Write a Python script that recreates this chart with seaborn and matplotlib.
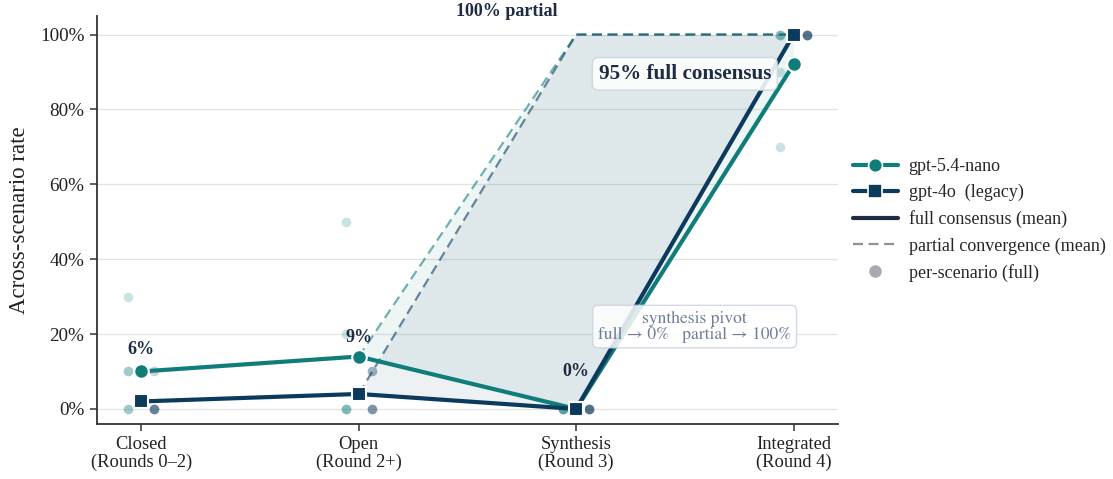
import numpy as np
import pandas as pd
import matplotlib
matplotlib.use("Agg")
import matplotlib.pyplot as plt
import seaborn as sns
from matplotlib.lines import Line2D

# ---------------- data ----------------
phases = ["Closed\n(Rounds 0–2)", "Open\n(Round 2+)", "Synthesis\n(Round 3)", "Integrated\n(Round 4)"]
model_names = ["gpt-5.4-nano", "gpt-4o  (legacy)"]

nano_full = [10, 14, 0, 92]
nano_partial = [10, 14, 100, 100]
gpt4o_full = [2, 4, 0, 100]
gpt4o_partial = [2, 4, 100, 100]

# per-scenario full-consensus rates (one list per phase)
nano_scenarios = [[30, 10, 10, 0, 0], [50, 20, 0, 0, 0], [0, 0, 0, 0, 0], [100, 100, 100, 90, 70]]
gpt4o_scenarios = [[10, 0, 0, 0, 0], [10, 10, 0, 0, 0], [0, 0, 0, 0, 0], [100, 100, 100, 100, 100]]

pooled_labels = ["6%", "9%", "0%"]
yticks = [0, 20, 40, 60, 80, 100]

# ---------------- style ----------------
TEAL = "#0f7d7a"
NAVY = "#0c3a5c"
DARK = "#1e2b42"
GRAYDASH = "#8c919b"
GRAYDOT = "#a8aab2"
PIVOT = "#6e7d99"

sns.set_theme(style="white")
plt.rcParams["font.family"] = ["Liberation Serif", "STIXGeneral", "DejaVu Serif"]
plt.rcParams["axes.unicode_minus"] = False

fig = plt.figure(figsize=(11.13, 4.79), dpi=100)
ax = fig.add_axes([0.087, 0.115, 0.666, 0.852])

x = np.arange(len(phases))
df = pd.DataFrame({
    "x": np.concatenate([x, x]),
    "full": nano_full + gpt4o_full,
    "partial": nano_partial + gpt4o_partial,
    "model": [model_names[0]] * 4 + [model_names[1]] * 4,
})

series = [
    (model_names[0], nano_full, nano_partial, nano_scenarios, TEAL, "o", -0.06, 0.072),
    (model_names[1], gpt4o_full, gpt4o_partial, gpt4o_scenarios, NAVY, "s", 0.06, 0.072),
]

for name, full, partial, scen, col, mk, off, fa in series:
    sub = df[df["model"] == name]
    # shaded gap between full and partial
    ax.fill_between(sub["x"], sub["full"], sub["partial"], color=col, alpha=fa, lw=0, zorder=1)
    # partial convergence (dashed)
    sns.lineplot(data=sub, x="x", y="partial", ax=ax, color=col, alpha=0.6, lw=1.6,
                 linestyle=(0, (4.5, 2.5)), zorder=2, estimator=None, sort=False)
    # per-scenario dots
    sx = np.concatenate([[xi + off] * len(v) for xi, v in zip(x, scen)])
    sy = np.concatenate([v for v in scen])
    sns.scatterplot(x=sx, y=sy, ax=ax, color=col, alpha=0.22, s=48, linewidth=0, zorder=3)

for name, full, partial, scen, col, mk, off, fa in series:
    sub = df[df["model"] == name]
    sns.lineplot(data=sub, x="x", y="full", ax=ax, color=col, lw=3, marker=mk,
                 markersize=10.5 if mk == "o" else 10, markeredgecolor="white", markeredgewidth=1.5,
                 zorder=5, estimator=None, sort=False)

# ---------------- annotations ----------------
label_y = [15.8, 19, 9.9]
for xi, (lab, ly) in enumerate(zip(pooled_labels, label_y)):
    ax.text(xi, ly, lab, ha="center", va="center", fontsize=13, fontweight="bold", color=DARK, zorder=7)

ax.text(1.68, 106.2, "100% partial", ha="center", va="center", fontsize=13, fontweight="bold",
        color=DARK, clip_on=False, zorder=7)

ax.text(2.50, 89.5, "95% full consensus", ha="center", va="center", fontsize=15.2, fontweight="bold",
        color=DARK, zorder=8,
        bbox=dict(boxstyle="round,pad=0.3,rounding_size=0.3", fc="white", ec="#cbd3df", lw=1, alpha=0.88))

ax.text(2.545, 22, "synthesis pivot\nfull → 0%   partial → 100%", ha="center", va="center",
        fontsize=12.6, color=PIVOT, linespacing=1.0, zorder=8,
        family=["STIXGeneral", "Liberation Serif", "DejaVu Serif"],
        bbox=dict(boxstyle="round,pad=0.3,rounding_size=0.3", fc="white", ec="#cbd3df", lw=1, alpha=0.85))

# ---------------- axes ----------------
ax.set_xlim(-0.205, 3.205)
ax.set_ylim(-4, 105)
ax.set_xticks(x)
ax.set_xticklabels(phases, fontsize=13.3, color="#222222", linespacing=1.05)
ax.set_yticks(yticks)
ax.set_yticklabels([f"{v}%" for v in yticks], fontsize=13.8, color="#222222")
ax.set_xlabel("")
ax.set_ylabel("Across-scenario rate", fontsize=16.5, color="#222222", labelpad=7)
ax.yaxis.grid(True, color="#e3e3e3", lw=0.9, zorder=0)
ax.xaxis.grid(False)
ax.set_axisbelow(True)
for s in ["top", "right"]:
    ax.spines[s].set_visible(False)
for s in ["left", "bottom"]:
    ax.spines[s].set_color("#333333")
    ax.spines[s].set_linewidth(1.3)
ax.tick_params(axis="both", which="major", length=5, width=1.1, color="#333333", pad=4,
               bottom=True, left=True)

# ---------------- legend ----------------
handles = [
    Line2D([], [], color=TEAL, lw=3, marker="o", markersize=10, markeredgecolor="white", markeredgewidth=1.2),
    Line2D([], [], color=NAVY, lw=3, marker="s", markersize=9.5, markeredgecolor="white", markeredgewidth=1.2),
    Line2D([], [], color=DARK, lw=3),
    Line2D([], [], color=GRAYDASH, lw=1.6, linestyle=(0, (4.5, 2.5))),
    Line2D([], [], color=GRAYDOT, lw=0, marker="o", markersize=8),
]
labels = [model_names[0], model_names[1], "full consensus (mean)", "partial convergence (mean)", "per-scenario (full)"]
ax.legend(handles, labels, loc="center left", bbox_to_anchor=(1.0, 0.5), frameon=False,
          fontsize=13, handlelength=2.5, labelspacing=0.5, handletextpad=0.6, borderaxespad=0.4)

fig.savefig("out.png", dpi=100, facecolor="white")
